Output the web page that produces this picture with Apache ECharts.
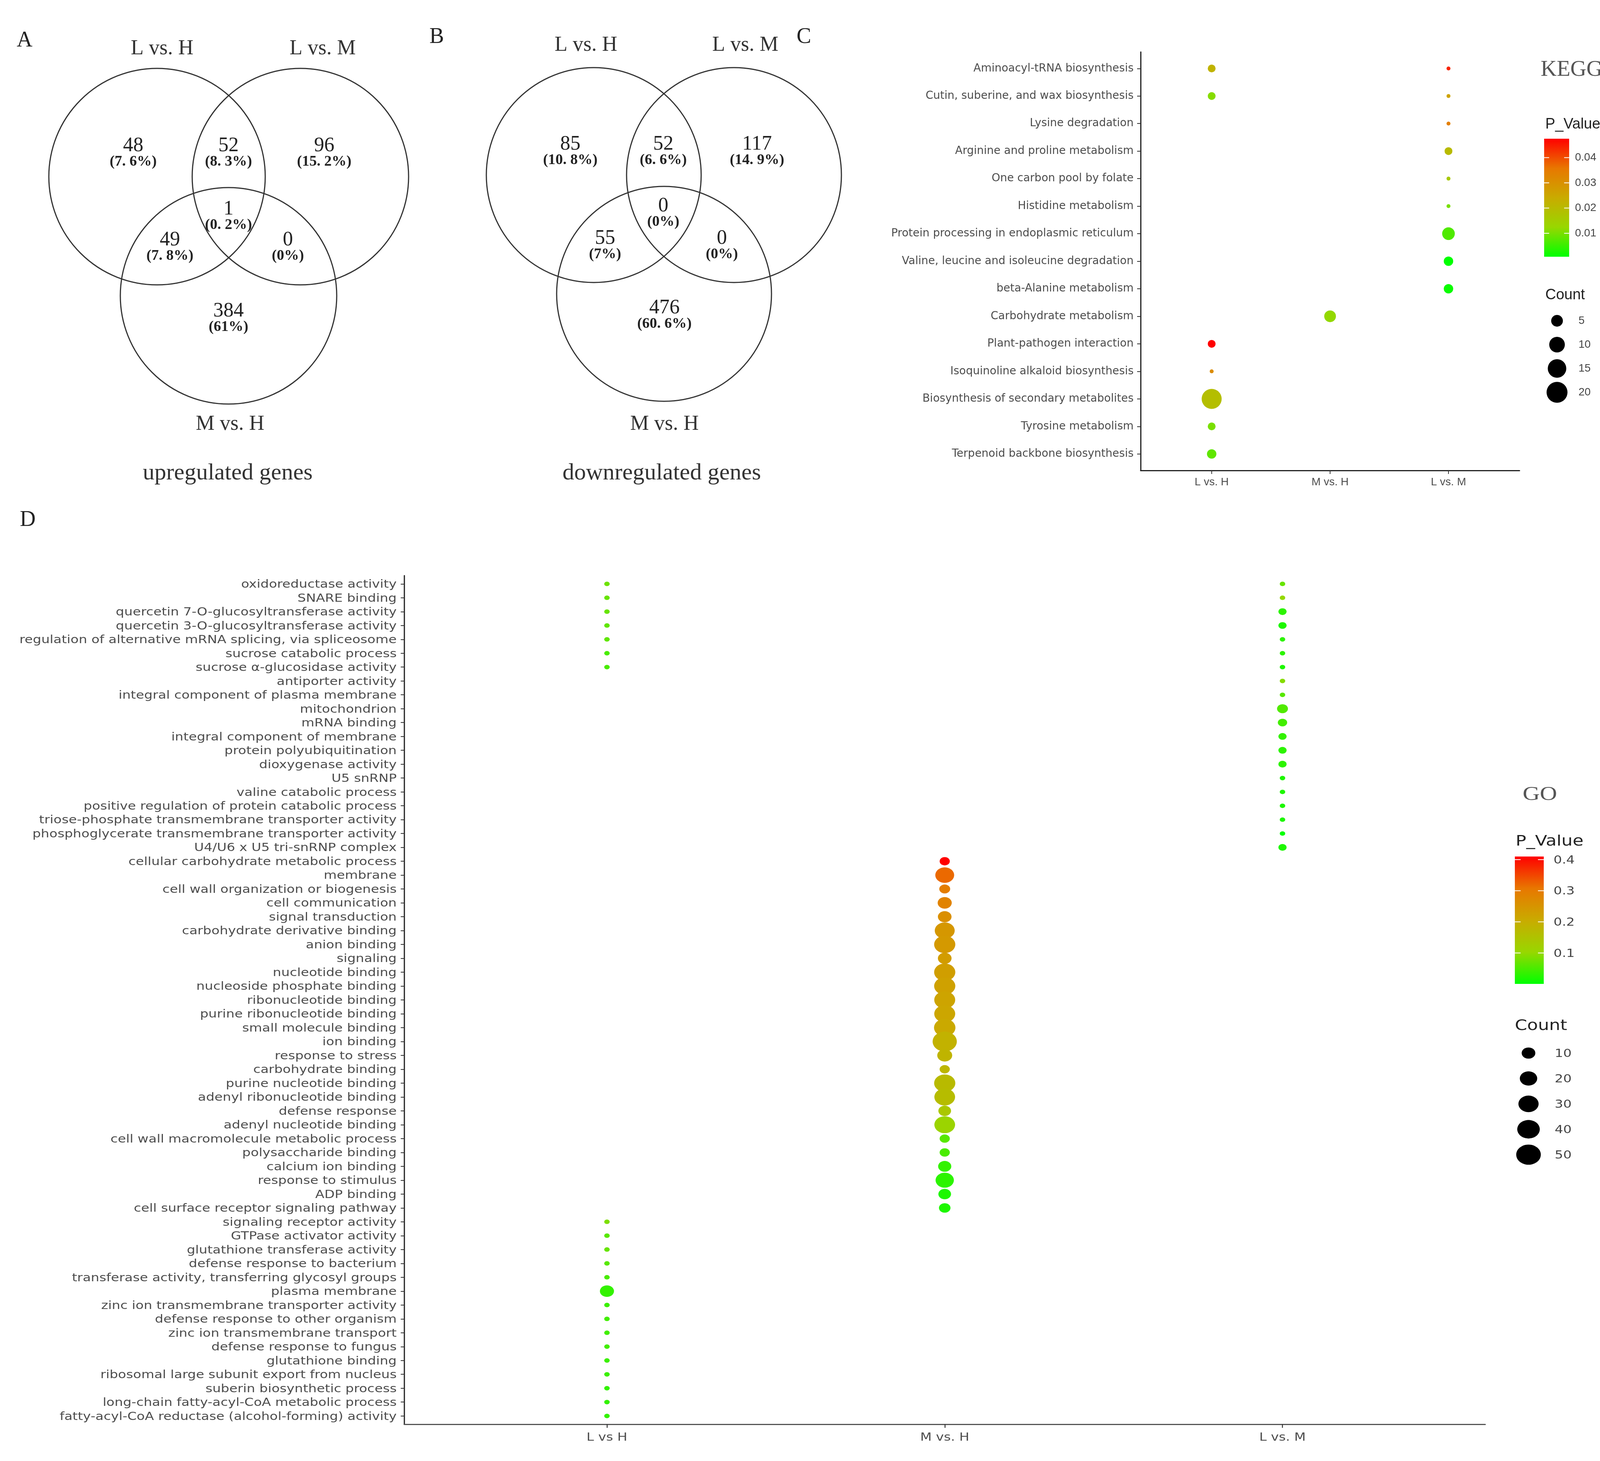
<!DOCTYPE html>
<html><head><meta charset="utf-8">
<script src="https://cdn.jsdelivr.net/npm/echarts@6/dist/echarts.min.js"></script>
<style>
html,body{margin:0;padding:0;background:#fff;overflow:hidden}
#c{position:absolute;left:0;top:0;width:4131px;height:3739px}
#d{position:absolute;left:0;top:1380px;transform-origin:0 0}
</style>
</head><body><div id="c"></div><div id="d"></div>
<script>
// ---------- Venn data (regions: onlyA, A∩B, onlyB, A∩B∩C, A∩C, B∩C, onlyC) ----------
const vennSetLabels = ['L vs. H', 'L vs. M', 'M vs. H'];
const vennUpCounts = [48, 52, 96, 1, 49, 0, 384];
const vennUpPercents = ['7. 6%', '8. 3%', '15. 2%', '0. 2%', '7. 8%', '0%', '61%'];
const vennDownCounts = [85, 52, 117, 0, 55, 0, 476];
const vennDownPercents = ['10. 8%', '6. 6%', '14. 9%', '0%', '7%', '0%', '60. 6%'];
const vennTitles = ['upregulated genes', 'downregulated genes'];
const panelLetters = ['A', 'B', 'C', 'D'];

// ---------- KEGG data ----------
const keggTerms = [
  'Aminoacyl-tRNA biosynthesis',
  'Cutin, suberine, and wax biosynthesis',
  'Lysine degradation',
  'Arginine and proline metabolism',
  'One carbon pool by folate',
  'Histidine metabolism',
  'Protein processing in endoplasmic reticulum',
  'Valine, leucine and isoleucine degradation',
  'beta-Alanine metabolism',
  'Carbohydrate metabolism',
  'Plant-pathogen interaction',
  'Isoquinoline alkaloid biosynthesis',
  'Biosynthesis of secondary metabolites',
  'Tyrosine metabolism',
  'Terpenoid backbone biosynthesis'
];
const keggGroups = ['L vs. H', 'M vs. H', 'L vs. M'];
const keggTermIdx  = [0, 0, 1, 1, 2, 3, 4, 5, 6, 7, 8, 9, 10, 11, 12, 13, 14];
const keggGroupIdx = [0, 2, 0, 2, 2, 2, 2, 2, 2, 2, 2, 1, 0, 0, 0, 0, 0];
const keggCount    = [2, 1, 2, 1, 1, 2, 1, 1, 6, 3, 3, 5, 2, 1, 18, 2, 3];
const keggPValue   = [0.022, 0.044, 0.011, 0.026, 0.034, 0.020, 0.016, 0.010, 0.0068, 0.0007, 0.0015, 0.012, 0.0475, 0.031, 0.019, 0.010, 0.008];
const keggLegendCounts = [5, 10, 15, 20];
const keggLegendP = [0.01, 0.02, 0.03, 0.04];

// ---------- GO data ----------
const goTerms = [
  'oxidoreductase activity',
  'SNARE binding',
  'quercetin 7-O-glucosyltransferase activity',
  'quercetin 3-O-glucosyltransferase activity',
  'regulation of alternative mRNA splicing, via spliceosome',
  'sucrose catabolic process',
  'sucrose α-glucosidase activity',
  'antiporter activity',
  'integral component of plasma membrane',
  'mitochondrion',
  'mRNA binding',
  'integral component of membrane',
  'protein polyubiquitination',
  'dioxygenase activity',
  'U5 snRNP',
  'valine catabolic process',
  'positive regulation of protein catabolic process',
  'triose-phosphate transmembrane transporter activity',
  'phosphoglycerate transmembrane transporter activity',
  'U4/U6 x U5 tri-snRNP complex',
  'cellular carbohydrate metabolic process',
  'membrane',
  'cell wall organization or biogenesis',
  'cell communication',
  'signal transduction',
  'carbohydrate derivative binding',
  'anion binding',
  'signaling',
  'nucleotide binding',
  'nucleoside phosphate binding',
  'ribonucleotide binding',
  'purine ribonucleotide binding',
  'small molecule binding',
  'ion binding',
  'response to stress',
  'carbohydrate binding',
  'purine nucleotide binding',
  'adenyl ribonucleotide binding',
  'defense response',
  'adenyl nucleotide binding',
  'cell wall macromolecule metabolic process',
  'polysaccharide binding',
  'calcium ion binding',
  'response to stimulus',
  'ADP binding',
  'cell surface receptor signaling pathway',
  'signaling receptor activity',
  'GTPase activator activity',
  'glutathione transferase activity',
  'defense response to bacterium',
  'transferase activity, transferring glycosyl groups',
  'plasma membrane',
  'zinc ion transmembrane transporter activity',
  'defense response to other organism',
  'zinc ion transmembrane transport',
  'defense response to fungus',
  'glutathione binding',
  'ribosomal large subunit export from nucleus',
  'suberin biosynthetic process',
  'long-chain fatty-acyl-CoA metabolic process',
  'fatty-acyl-CoA reductase (alcohol-forming) activity'
];
const goGroups = ['L vs H', 'M vs. H', 'L vs. M'];
const goTermIdx = [
  0, 1, 2, 3, 4, 5, 6, 46, 47, 48, 49, 50, 51, 52, 53, 54, 55, 56, 57, 58, 59, 60,
  0, 1, 2, 3, 4, 5, 6, 7, 8, 9, 10, 11, 12, 13, 14, 15, 16, 17, 18, 19,
  20, 21, 22, 23, 24, 25, 26, 27, 28, 29, 30, 31, 32, 33, 34, 35, 36, 37, 38, 39, 40, 41, 42, 43, 44, 45
];
const goGroupIdx = [
  0, 0, 0, 0, 0, 0, 0, 0, 0, 0, 0, 0, 0, 0, 0, 0, 0, 0, 0, 0, 0, 0,
  2, 2, 2, 2, 2, 2, 2, 2, 2, 2, 2, 2, 2, 2, 2, 2, 2, 2, 2, 2,
  1, 1, 1, 1, 1, 1, 1, 1, 1, 1, 1, 1, 1, 1, 1, 1, 1, 1, 1, 1, 1, 1, 1, 1, 1, 1
];
const goCount = [
  1, 1, 1, 1, 1, 1, 1, 1, 1, 1, 1, 1, 11, 1, 1, 1, 1, 1, 1, 1, 1, 1,
  1, 1, 2, 2, 1, 1, 1, 1, 1, 5, 3, 2, 2, 2, 1, 1, 1, 1, 1, 2,
  4, 25, 5, 11, 10, 29, 34, 10, 34, 34, 33, 33, 35, 48, 13, 4, 34, 32, 8, 32, 4, 4, 9, 23, 8, 6
];
const goPValue = [
  0.075, 0.07, 0.07, 0.065, 0.065, 0.05, 0.05, 0.085, 0.06, 0.07, 0.06, 0.05, 0.035, 0.04, 0.045, 0.045, 0.045, 0.04, 0.04, 0.035, 0.035, 0.035,
  0.07, 0.1, 0.03, 0.02, 0.03, 0.03, 0.02, 0.09, 0.06, 0.055, 0.045, 0.035, 0.03, 0.03, 0.02, 0.02, 0.02, 0.02, 0.0006, 0.02,
  0.41, 0.32, 0.295, 0.285, 0.26, 0.245, 0.24, 0.235, 0.23, 0.225, 0.22, 0.215, 0.21, 0.19, 0.185, 0.18, 0.17, 0.165, 0.14, 0.11, 0.06, 0.05, 0.035, 0.03, 0.02, 0.02
];
const goLegendCounts = [10, 20, 30, 40, 50];
const goLegendP = [0.1, 0.2, 0.3, 0.4];

// ---------- styling ----------
const gradColors = ['#00FF00', '#98D700', '#C9AB00', '#E87700', '#FF0000'];
const SX = 1.22;          // horizontal stretch of panel D in the original figure
const D_TOP = 1380;       // page y where panel D's drawing surface starts
const keggSize = c => 10 + 10 * Math.sqrt(c - 1);
const goSize = c => (14 + 7 * Math.sqrt(c - 1)) / SX;
const SERIF = '"Liberation Serif","DejaVu Serif",serif';
const SANS = '"Liberation Sans",Arial,sans-serif';
const DSANS = '"DejaVu Sans","Liberation Sans",sans-serif';

const keggData = keggTermIdx.map((t, i) => [keggGroupIdx[i], t, keggCount[i], keggPValue[i]]);
const goData = goTermIdx.map((t, i) => [goGroupIdx[i], t, goCount[i], goPValue[i]]);
const kMin = Math.min(...keggPValue), kMax = Math.max(...keggPValue);
const gMin = Math.min(...goPValue), gMax = Math.max(...goPValue);
const range = n => Array.from({length: n}, (_, i) => i);

function mkTxt(arr) {
  return function (x, y, s, font, fill, align) {
    arr.push({type: 'text', x: x, y: y, z: 10, style: {text: s, font: font, fill: fill || '#222',
      textAlign: align || 'center', textVerticalAlign: 'middle', align: align || 'center', verticalAlign: 'middle'}});
  };
}
function gradRect(arr, x, y, w, h) {
  arr.push({type: 'rect', z: 5, shape: {x: x, y: y, width: w, height: h},
    style: {fill: new echarts.graphic.LinearGradient(0, 0, 0, 1,
      gradColors.slice().reverse().map((c, i) => ({offset: i / (gradColors.length - 1), color: c})))}});
}
function tickMarks(arr, x, w, ys) {
  ys.forEach(y => {
    arr.push({type: 'line', z: 6, shape: {x1: x, y1: y, x2: x + w * 0.2, y2: y}, style: {stroke: '#fff', lineWidth: 2}});
    arr.push({type: 'line', z: 6, shape: {x1: x + w * 0.8, y1: y, x2: x + w, y2: y}, style: {stroke: '#fff', lineWidth: 2}});
  });
}
function xAxisCfg(gridIndex, cats, font, size, margin, lineColor, lw) {
  return {
    type: 'value', gridIndex: gridIndex, min: -0.6, max: 2.6,
    splitLine: {show: false},
    axisLine: {show: true, onZero: false, lineStyle: {color: lineColor, width: lw}},
    axisTick: {show: true, length: 9, customValues: [0, 1, 2], lineStyle: {color: '#333', width: 2}},
    axisLabel: {show: true, customValues: [0, 1, 2], margin: margin, formatter: v => cats[Math.round(v)],
      fontFamily: font, fontSize: size, color: '#4d4d4d'}
  };
}
function yAxisCfg(gridIndex, cats, font, size, margin, lw, tl) {
  const n = cats.length;
  return {
    type: 'value', gridIndex: gridIndex, min: -0.6, max: n - 1 + 0.6, inverse: true,
    splitLine: {show: false},
    axisLine: {show: true, onZero: false, lineStyle: {color: '#222', width: lw}},
    axisTick: {show: true, length: tl, customValues: range(n), lineStyle: {color: '#333', width: 2}},
    axisLabel: {show: true, customValues: range(n), margin: margin, formatter: v => cats[Math.round(v)],
      fontFamily: font, fontSize: size, color: '#4d4d4d'}
  };
}

// ================= Chart 1: Venn A/B + KEGG (C) =================
const G = [];
const txt = mkTxt(G);
const vennLayouts = [
  {circles: [[402, 452], [769, 452], [585, 757]], r: 277,
   labels: [[415, 125], [826, 125], [589, 1086]], title: [583, 1211],
   regions: [[341, 373], [585, 373], [830, 373], [585, 535], [435, 614], [737, 614], [585, 796]],
   counts: vennUpCounts, pcts: vennUpPercents, titleText: vennTitles[0]},
  {circles: [[1520, 448], [1879, 448], [1700, 752]], r: 275,
   labels: [[1500, 116], [1908, 116], [1701, 1086]], title: [1694, 1211],
   regions: [[1460, 369], [1698, 369], [1938, 369], [1698, 527], [1549, 610], [1848, 610], [1701, 788]],
   counts: vennDownCounts, pcts: vennDownPercents, titleText: vennTitles[1]}
];
vennLayouts.forEach(v => {
  v.circles.forEach(c => G.push({type: 'circle', z: 5, shape: {cx: c[0], cy: c[1], r: v.r},
    style: {fill: 'none', stroke: '#333', lineWidth: 3}}));
  v.labels.forEach((p, i) => txt(p[0], p[1], vennSetLabels[i], '54px ' + SERIF, '#333'));
  txt(v.title[0], v.title[1], v.titleText, '60px ' + SERIF, '#333');
  v.regions.forEach((p, i) => {
    txt(p[0], p[1], String(v.counts[i]), '52px ' + SERIF, '#222');
    txt(p[0], p[1] + 41, '(' + v.pcts[i] + ')', 'bold 38px ' + SERIF, '#222');
  });
});
txt(63, 104, panelLetters[0], '56px ' + SERIF, '#222');
txt(1118, 95, panelLetters[1], '56px ' + SERIF, '#222');
txt(2058, 95, panelLetters[2], '56px ' + SERIF, '#222');
txt(71, 1331, panelLetters[3], '56px ' + SERIF, '#222');

// KEGG legend
txt(3944, 179, 'KEGG', '57px ' + SERIF, '#555', 'left');
txt(3956, 319, 'P_Value', '38px ' + SANS, '#222', 'left');
{
  const bx = 3953, by = 355, bw = 64, bh = 302;
  gradRect(G, bx, by, bw, bh);
  const ys = keggLegendP.map(v => by + bh - (v - kMin) / (kMax - kMin) * bh);
  tickMarks(G, bx, bw, ys);
  keggLegendP.forEach((v, i) => txt(4032, ys[i], v.toFixed(2), '28px ' + SANS, '#444', 'left'));
}
txt(3956, 756, 'Count', '38px ' + SANS, '#222', 'left');
keggLegendCounts.forEach((c, i) => {
  const y = 821 + i * 61;
  G.push({type: 'circle', z: 5, shape: {cx: 3986, cy: y, r: keggSize(c) / 2}, style: {fill: '#000'}});
  txt(4041, y, String(c), '28px ' + SANS, '#444', 'left');
});

const chart1 = echarts.init(document.getElementById('c'), null, {renderer: 'canvas', width: 4131, height: 3739});
chart1.setOption({
  backgroundColor: '#fff',
  animation: false,
  grid: [{left: 2920, top: 133, width: 970, height: 1071, containLabel: false}],
  xAxis: [xAxisCfg(0, keggGroups, SANS, 28, 16, '#222', 3)],
  yAxis: [yAxisCfg(0, keggTerms, DSANS, 28, 18, 3, 9)],
  visualMap: [{type: 'continuous', show: false, seriesIndex: 0, dimension: 3, min: kMin, max: kMax, inRange: {color: gradColors}}],
  series: [{type: 'scatter', data: keggData, symbol: 'circle', symbolSize: v => keggSize(v[2]), itemStyle: {opacity: 1}}],
  graphic: {elements: G}
});

// ================= Chart 2: GO (D), drawn narrow then stretched horizontally =================
const dW = 4131 / SX, dH = 3739 - D_TOP;
const dDiv = document.getElementById('d');
dDiv.style.width = dW + 'px';
dDiv.style.height = dH + 'px';
dDiv.style.transform = 'scaleX(' + SX + ')';

const G2 = [];
const txt2 = mkTxt(G2);
const X = v => v / SX, Y = v => v - D_TOP;
txt2(X(3898), Y(2030), 'GO', '50px ' + SERIF, '#555', 'left');
txt2(X(3880), Y(2151), 'P_Value', '37px ' + DSANS, '#222', 'left');
{
  const bx = X(3878), by = Y(2192), bw = 74 / SX, bh = 326;
  gradRect(G2, bx, by, bw, bh);
  const ys = goLegendP.map(v => by + bh - (v - gMin) / (gMax - gMin) * bh);
  tickMarks(G2, bx, bw, ys);
  goLegendP.forEach((v, i) => txt2(X(3977), ys[i], v.toFixed(1), '28px ' + DSANS, '#444', 'left'));
}
txt2(X(3878), Y(2623), 'Count', '37px ' + DSANS, '#222', 'left');
goLegendCounts.forEach((c, i) => {
  const y = Y(2695) + i * 65;
  G2.push({type: 'circle', z: 5, shape: {cx: X(3913), cy: y, r: goSize(c) / 2}, style: {fill: '#000'}});
  txt2(X(3980), y, String(c), '28px ' + DSANS, '#444', 'left');
});

const chart2 = echarts.init(dDiv, null, {renderer: 'svg', width: dW, height: dH});
chart2.setOption({
  animation: false,
  grid: [{left: X(1035), top: Y(1473), width: 2767 / SX, height: 2172, containLabel: false}],
  xAxis: [xAxisCfg(0, goGroups, DSANS, 28, 18, '#555', 3)],
  yAxis: [yAxisCfg(0, goTerms, DSANS, 28, 16, 2.5, 7.5)],
  visualMap: [{type: 'continuous', show: false, seriesIndex: 0, dimension: 3, min: gMin, max: gMax, inRange: {color: gradColors}}],
  series: [{type: 'scatter', data: goData, symbol: 'circle', symbolSize: v => goSize(v[2]), itemStyle: {opacity: 1}}],
  graphic: {elements: G2}
});
</script>
</body></html>
